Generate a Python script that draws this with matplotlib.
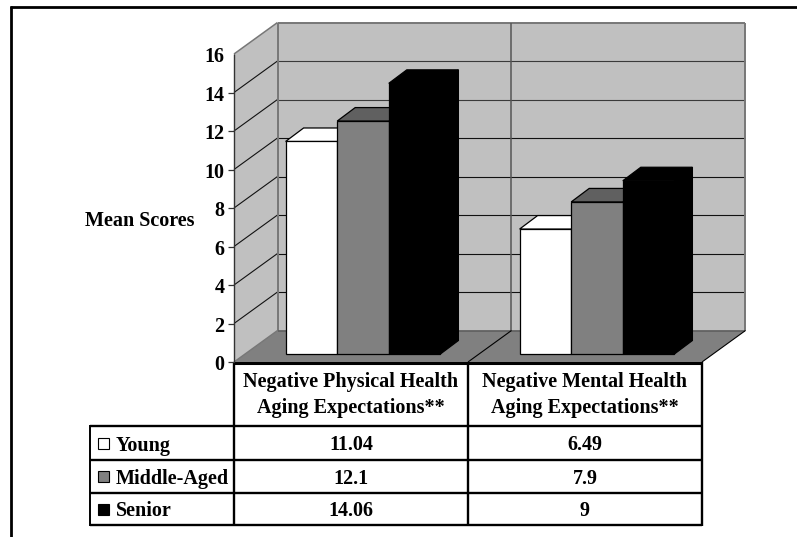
import matplotlib
matplotlib.use("Agg")
import matplotlib.pyplot as plt
from matplotlib.patches import Polygon, Rectangle
from matplotlib.lines import Line2D
from matplotlib.transforms import IdentityTransform

plt.rcParams["font.family"] = ["Liberation Serif", "DejaVu Serif"]
plt.rcParams["font.weight"] = "bold"

# Chart values
categories = ["Negative Physical Health\nAging Expectations**",
              "Negative Mental Health\nAging Expectations**"]
groups = ["Young", "Middle-Aged", "Senior"]
young = [11.04, 6.49]
middle_aged = [12.1, 7.9]
senior = [14.06, 9]
y_ticks = [0, 2, 4, 6, 8, 10, 12, 14, 16]
y_title = "Mean Scores"

W, H = 797, 537
FONT = 14.5

fig = plt.figure(figsize=(W / 100, H / 100), dpi=100, facecolor="white")


def px_box(left, top, right, bottom):
    return [left / W, (H - bottom) / H, (right - left) / W, (bottom - top) / H]


# The axes rectangle is the front plane of the 3-D box
ax = fig.add_axes(px_box(234, 54, 702, 362))
ax.set_xlim(0, 2)
ax.set_ylim(0, 16)
ax.axis("off")
fig.canvas.draw()

# Oblique offsets in pixels for the box and for the bars inside it
BOX_DX, BOX_DY = 43.5, 31.5
BAR_DX, BAR_DY = 12, 8
BAR_DEPTH_DX, BAR_DEPTH_DY = 18, 13.5
BAR_W = 0.2205

display = IdentityTransform()


def proj(x, v, dx=0.0, dy=0.0):
    px, py = ax.transData.transform((x, v))
    return (px + dx, py + dy)


def poly(points, fc, ec="none", lw=0.0, z=1):
    fig.add_artist(Polygon(points, closed=True, facecolor=fc, edgecolor=ec,
                           linewidth=lw, transform=display, zorder=z,
                           joinstyle="miter"))


def seg(a, b, color="black", lw=0.8, z=2):
    fig.add_artist(Line2D([a[0], b[0]], [a[1], b[1]], color=color, linewidth=lw,
                          transform=display, zorder=z, solid_capstyle="butt"))


# Back wall, side wall and floor
WALL = "#c0c0c0"
EDGE = "#777777"
poly([proj(0, 0, BOX_DX, BOX_DY), proj(2, 0, BOX_DX, BOX_DY),
      proj(2, 16, BOX_DX, BOX_DY), proj(0, 16, BOX_DX, BOX_DY)], WALL)
poly([proj(0, 0), proj(0, 0, BOX_DX, BOX_DY),
      proj(0, 16, BOX_DX, BOX_DY), proj(0, 16)], WALL)
poly([proj(0, 0), proj(2, 0), proj(2, 0, BOX_DX, BOX_DY), proj(0, 0, BOX_DX, BOX_DY)],
     "#808080")

# Gridlines continue from the side wall across the back wall
for t in y_ticks[1:-1]:
    grid_color = "#3a3a3a" if t >= 12 else "#111111"
    seg(proj(0, t), proj(0, t, BOX_DX, BOX_DY), color="#111111", lw=0.8)
    seg(proj(0, t, BOX_DX, BOX_DY), proj(2, t, BOX_DX, BOX_DY), color=grid_color, lw=0.8)
    seg(proj(0, t, -6), proj(0, t), color="#333333", lw=0.9)

# Box outline
seg(proj(0, 16), proj(0, 16, BOX_DX, BOX_DY), color=EDGE, lw=1.1)
seg(proj(0, 16, BOX_DX, BOX_DY), proj(2, 16, BOX_DX, BOX_DY), color=EDGE, lw=1.4)
seg(proj(2, 16, BOX_DX, BOX_DY), proj(2, 0, BOX_DX, BOX_DY), color=EDGE, lw=1.4)
seg(proj(0, 16, BOX_DX, BOX_DY), proj(0, 0, BOX_DX, BOX_DY), color=EDGE, lw=1.4)
seg(proj(1, 16, BOX_DX, BOX_DY), proj(1, 0, BOX_DX, BOX_DY), color="#555555", lw=1.1)
seg(proj(0, 0, BOX_DX, BOX_DY), proj(2, 0, BOX_DX, BOX_DY), color="#5c5c5c", lw=1.1)
seg(proj(0, 0), proj(0, 0, BOX_DX, BOX_DY), color=EDGE, lw=1.0)
seg(proj(1, 0), proj(1, 0, BOX_DX, BOX_DY), color="black", lw=0.8)
seg(proj(2, 0), proj(2, 0, BOX_DX, BOX_DY), color="black", lw=0.8)
seg(proj(0, 0), proj(0, 16), color="#333333", lw=1.0)
seg(proj(0, 0, -6), proj(0, 0), color="#333333", lw=0.9)

# Three-sided bars, drawn back to front so neighbours overlap correctly
series = [(young, "white", "white", "white"),
          (middle_aged, "#808080", "#606060", "#606060"),
          (senior, "black", "black", "black")]
for i, (values, front, top, side) in enumerate(series):
    for c, v in enumerate(values):
        x0 = c + 0.5 + (i - 1.5) * BAR_W
        x1 = x0 + BAR_W
        d0 = (BAR_DX, BAR_DY)
        d1 = (BAR_DX + BAR_DEPTH_DX, BAR_DY + BAR_DEPTH_DY)
        poly([proj(x1, 0, *d0), proj(x1, 0, *d1), proj(x1, v, *d1), proj(x1, v, *d0)],
             side, ec="black", lw=0.9, z=3 + i)
        poly([proj(x0, v, *d0), proj(x1, v, *d0), proj(x1, v, *d1), proj(x0, v, *d1)],
             top, ec="black", lw=0.9, z=3 + i)
        poly([proj(x0, 0, *d0), proj(x1, 0, *d0), proj(x1, v, *d0), proj(x0, v, *d0)],
             front, ec="black", lw=0.9, z=3 + i)

# Value axis labels and title
for t in y_ticks:
    px, py = proj(0, t, -9.5, -0.7)
    fig.text(px, py, str(t), transform=display, ha="right", va="center_baseline",
             fontsize=FONT)
fig.text(139.5 / W, (H - 221.5) / H, y_title, ha="center", va="center", fontsize=FONT)

# Data table under the chart, with its own pixel-based layout
tab = fig.add_axes(px_box(0, 362, 797, 537))
tab.set_xlim(0, W)
tab.set_ylim(537, 362)
tab.axis("off")
tab.patch.set_alpha(0)

ROW_LINES = [426, 460, 493, 525]
COL_LINES = [234, 468, 702]
LEGEND_LEFT = 90
RULE = 1.7

tab.plot([234, 702], [362.5, 362.5], color="black", lw=2.2, solid_capstyle="butt")
for rx in ROW_LINES:
    tab.plot([LEGEND_LEFT, 702], [rx, rx], color="black", lw=RULE, solid_capstyle="butt")
for cx in COL_LINES:
    tab.plot([cx, cx], [362, 526], color="black", lw=RULE, solid_capstyle="butt")
tab.plot([LEGEND_LEFT, LEGEND_LEFT], [425, 526], color="black", lw=1.4, solid_capstyle="butt")

for c, label in enumerate(categories):
    cx = (COL_LINES[c] + COL_LINES[c + 1]) / 2
    tab.text(cx, 395.5, label, ha="center", va="center", fontsize=FONT, linespacing=1.4)

rows = [young, middle_aged, senior]
for r, (values, name, swatch) in enumerate(zip(rows, groups, ["white", "#808080", "black"])):
    cy = (ROW_LINES[r] + ROW_LINES[r + 1]) / 2
    tab.add_patch(Rectangle((98, cy - 5.5), 11, 11, facecolor=swatch, edgecolor="black", lw=0.8))
    tab.text(116, cy, name, ha="left", va="center_baseline", fontsize=FONT)
    for c, v in enumerate(values):
        cx = (COL_LINES[c] + COL_LINES[c + 1]) / 2
        tab.text(cx, cy, str(v), ha="center", va="center_baseline", fontsize=FONT)

# Frame lines along the top and left of the slide
fig.add_artist(Line2D([9.5 / W, 1], [(H - 7.3) / H] * 2, color="black", lw=2.0, solid_capstyle="butt"))
fig.add_artist(Line2D([10.5 / W] * 2, [0, (H - 6) / H], color="black", lw=2.0, solid_capstyle="butt"))

fig.savefig("out.png", dpi=100, facecolor="white")
